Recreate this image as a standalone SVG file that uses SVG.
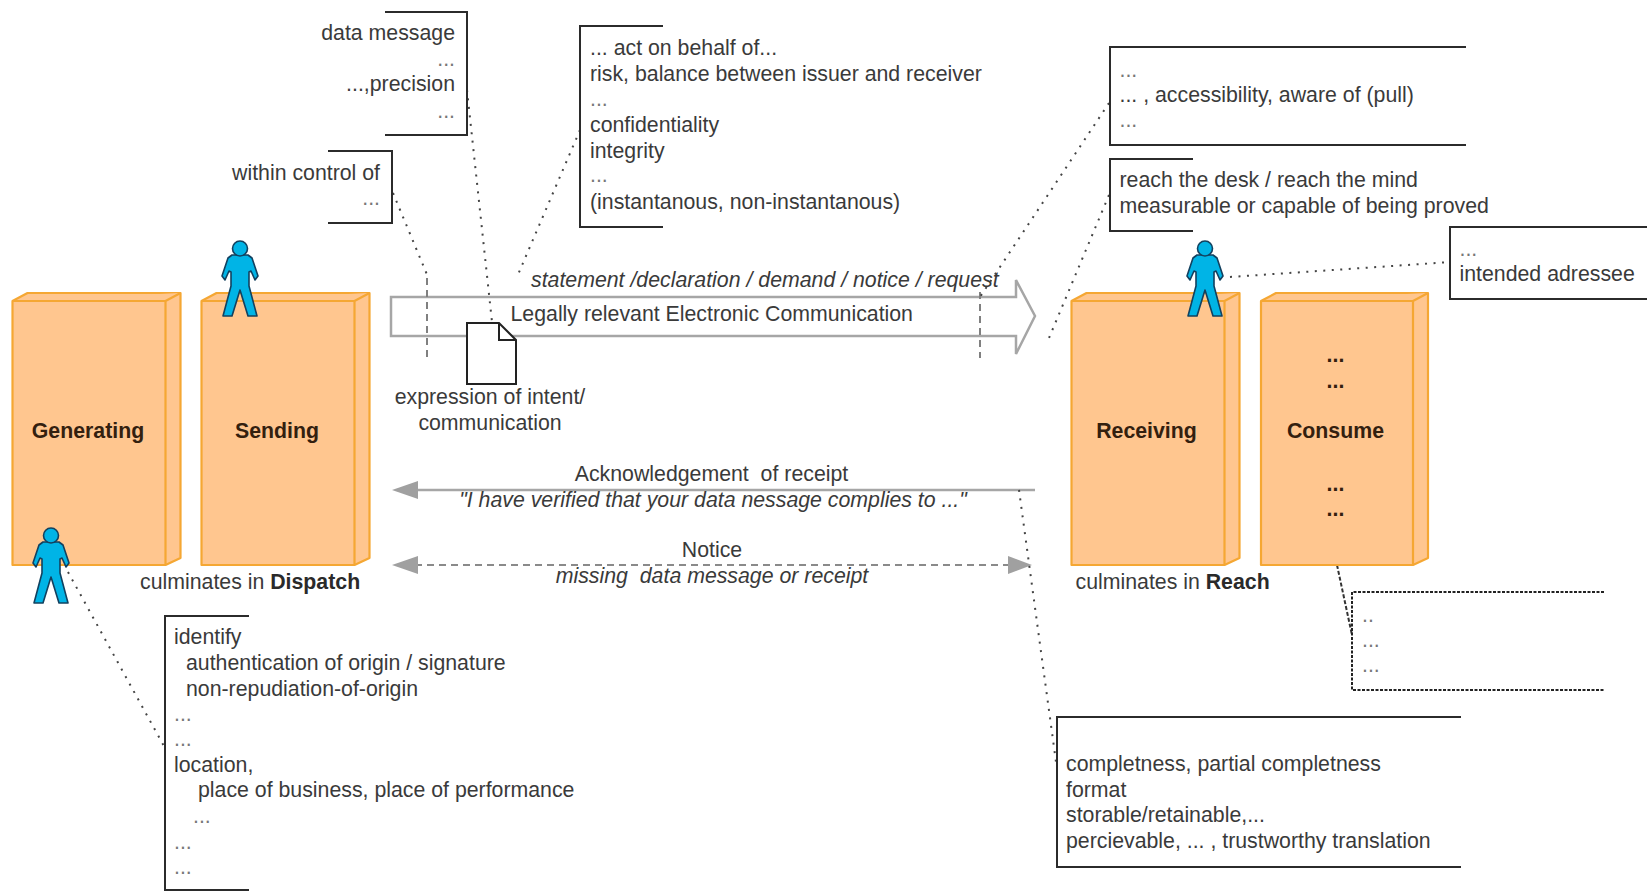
<svg xmlns="http://www.w3.org/2000/svg" width="1647" height="891" viewBox="0 0 1647 891">
<style>
text{font-family:"Liberation Sans",Arial,sans-serif;font-size:21.3px;fill:#3a3a3a;white-space:pre}
.b{font-weight:bold;fill:#33200f}
.i{font-style:italic}
.m{text-anchor:middle}
.e{text-anchor:end}
.d{fill:#777}
.box{fill:#ffc68f;stroke:#f5a733;stroke-width:2.2;stroke-linejoin:round}
.br{fill:none;stroke:#2b2b2b;stroke-width:2}
.dot{fill:none;stroke:#444;stroke-width:2;stroke-dasharray:2 6.5}
.dash{fill:none;stroke:#808080;stroke-width:2;stroke-dasharray:7 5}
.line{fill:none;stroke:#a6a6a6;stroke-width:2.5}
.head{fill:#a0a0a0;stroke:none}
</style>
<defs>
<g id="person">
<path d="M-8,15 L8,15 L12,18 L18,36 L15,40 L11,31 L9,32 L9,46 L17,76 L8,76 L0,50 L-8,76 L-17,76 L-9,46 L-9,32 L-11,31 L-15,40 L-18,36 L-12,18 Z" fill="#00b4e6" stroke="#12415f" stroke-width="1.6" stroke-linejoin="round"/>
<circle cx="0" cy="8.5" r="7.5" fill="#00b4e6" stroke="#12415f" stroke-width="1.6"/>
</g>
<g id="block">
<path class="box" d="M0,8 L15,0 L168,0 L168,265 L153,272 L0,272 Z"/>
<path class="box" d="M0,8 L153,8 L168,0 M153,8 L153,272"/>
</g>
</defs>

<g id="connectors">
<path class="line" style="fill:#fff" d="M391,297 L1016,297 L1016,280 L1035,316 L1016,354 L1016,336 L391,336 Z"/>
<path class="dash" d="M427,278 L427,358"/>
<path class="dash" d="M980,292 L980,358"/>
<path class="line" d="M415,490 L1035,490"/>
<path class="head" d="M392,490 L418,481 L418,499 Z"/>
<path class="dash" style="stroke:#8a8a8a" d="M415,565 L1012,565"/>
<path class="head" d="M392,565 L418,556 L418,574 Z"/>
<path class="head" d="M1032,565 L1008,556 L1008,574 Z"/>
<path class="dot" d="M393,193 L428,277"/>
<path class="dot" d="M467,90 L492,322"/>
<path class="dot" d="M580,130 L517,277"/>
<path class="dot" d="M68,572 L165,748"/>
<path class="dot" d="M1109,103 L980,297"/>
<path class="dot" d="M1109,195 L1049,338"/>
<path class="dot" d="M1230,277 L1451,262"/>
<path class="dot" d="M1019,490 L1056,762"/>
<path d="M1337,565 L1352,635" fill="none" stroke="#333" stroke-width="2" stroke-dasharray="4 2"/>
</g>

<g id="generating"><use href="#block" x="12.5" y="293"/><text class="b m" x="88" y="438">Generating</text></g>
<g id="sending"><use href="#block" x="201.5" y="293"/><text class="b m" x="277" y="438">Sending</text></g>
<g id="receiving"><use href="#block" x="1071.5" y="293"/><text class="b m" x="1146.5" y="438">Receiving</text></g>
<g id="consume">
<path class="box" d="M1261,301 L1276,293 L1428,293 L1428,558 L1413,565 L1261,565 Z"/>
<path class="box" d="M1261,301 L1413,301 L1428,293 M1413,301 L1413,565"/>
<text class="b m" x="1335.5" y="438">Consume</text>
<text class="b m" x="1335.5" y="362">...</text><text class="b m" x="1335.5" y="388">...</text><text class="b m" x="1335.5" y="491">...</text><text class="b m" x="1335.5" y="516">...</text></g>

<g id="person-generating"><use href="#person" x="51" y="527"/></g>
<g id="person-sending"><use href="#person" x="240" y="240"/></g>
<g id="person-receiving"><use href="#person" x="1205" y="240"/></g>

<g id="document">
<path d="M467,323 L499,323 L516,340 L516,384 L467,384 Z" fill="#fff" stroke="#222" stroke-width="2"/>
<path d="M499,323 L499,340 L516,340" fill="none" stroke="#222" stroke-width="2"/>
<text class="m" x="490" y="404">expression of intent/</text>
<text class="m" x="490" y="430">communication</text>
</g>

<g id="labels">
<text x="510.5" y="321">Legally relevant Electronic Communication</text>
<text class="i" x="531" y="287">statement /declaration / demand / notice / request</text>
<text class="m" x="711.5" y="481">Acknowledgement  of receipt</text>
<text class="i m" x="713" y="507">"I have verified that your data nessage complies to ..."</text>
<text class="m" x="712" y="557">Notice</text>
<text class="i m" x="712" y="583">missing  data message or receipt</text>
<text x="140" y="589">culminates in <tspan class="b" style="fill:#2a2a2a">Dispatch</tspan></text>
<text x="1075.5" y="589">culminates in <tspan class="b" style="fill:#2a2a2a">Reach</tspan></text>
</g>

<g id="note-data-message">
<path class="br" d="M385,12 L467,12 L467,135 L385,135"/>
<text class="e" x="455" y="40">data message</text>
<text class="e d" x="455" y="66">...</text>
<text class="e" x="455" y="91">...,precision</text>
<text class="e d" x="455" y="118">...</text>
</g>
<g id="note-control">
<path class="br" d="M328,151 L392,151 L392,223 L328,223"/>
<text class="e" x="380" y="180">within control of</text>
<text class="e d" x="380" y="205">...</text>
</g>
<g id="note-act">
<path class="br" d="M663,26 L580,26 L580,227 L663,227"/>
<text x="590" y="55">... act on behalf of...</text>
<text x="590" y="81">risk, balance between issuer and receiver</text>
<text class="d" x="590" y="106">...</text>
<text x="590" y="132">confidentiality</text>
<text x="590" y="158">integrity</text>
<text class="d" x="590" y="182">...</text>
<text x="590" y="209">(instantanous, non-instantanous)</text>
</g>
<g id="note-access">
<path class="br" d="M1466,47 L1110,47 L1110,145 L1466,145"/>
<text class="d" x="1119.5" y="77">...</text>
<text x="1119.5" y="102">... , accessibility, aware of (pull)</text>
<text class="d" x="1119.5" y="127">...</text>
</g>
<g id="note-reach">
<path class="br" d="M1193,159 L1110,159 L1110,231 L1193,231"/>
<text x="1119.5" y="187">reach the desk / reach the mind</text>
<text x="1119.5" y="213">measurable or capable of being proved</text>
</g>
<g id="note-addressee">
<path class="br" d="M1647,227 L1450,227 L1450,299 L1647,299"/>
<text class="d" x="1459.5" y="256">...</text>
<text x="1459.5" y="281">intended adressee</text>
</g>
<g id="note-consume">
<path d="M1604,592 L1352,592 L1352,690 L1604,690" fill="none" stroke="#222" stroke-width="2" stroke-dasharray="3 1.5"/>
<text class="d" x="1362" y="622">..</text>
<text class="d" x="1362" y="647">...</text>
<text class="d" x="1362" y="672">...</text>
</g>
<g id="note-completeness">
<path class="br" d="M1461,717 L1057,717 L1057,867 L1461,867"/>
<text x="1066" y="771">completness, partial completness</text>
<text x="1066" y="797">format</text>
<text x="1066" y="822">storable/retainable,...</text>
<text x="1066" y="848">percievable, ... , trustworthy translation</text>
</g>
<g id="note-identify">
<path class="br" d="M249,616 L165,616 L165,890 L249,890"/>
<text x="174" y="644">identify</text>
<text x="186" y="670">authentication of origin / signature</text>
<text x="186" y="696">non-repudiation-of-origin</text>
<text class="d" x="174" y="721">...</text>
<text class="d" x="174" y="746">...</text>
<text x="174" y="772">location,</text>
<text x="198" y="797">place of business, place of performance</text>
<text class="d" x="193" y="823">...</text>
<text class="d" x="174" y="849">...</text>
<text class="d" x="174" y="874">...</text>
</g>
</svg>
